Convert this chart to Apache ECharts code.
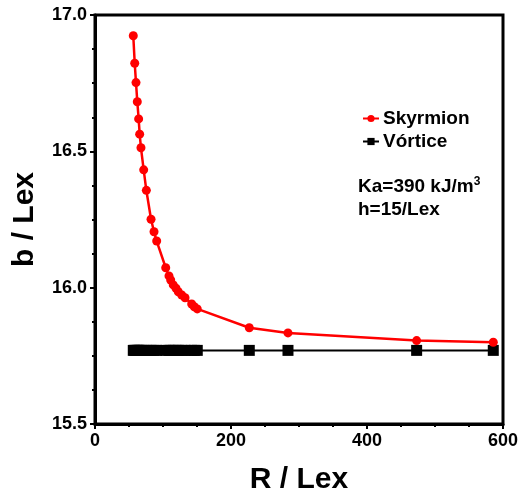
<!DOCTYPE html>
<html><head><meta charset="utf-8">
<script src="https://cdn.jsdelivr.net/npm/echarts@6/dist/echarts.min.js"></script>
<style>html,body{margin:0;padding:0;background:#fff}#c{width:520px;height:493px}</style>
</head><body><div id="c"></div>
<script>
const R = [56.3,58.4,60.3,62.2,64.2,65.7,67.6,71.6,75.5,82.4,86.8,90.7,104,108.8,111.3,115.1,119.1,122.5,127.5,132.4,142.2,146,150.4,226.9,283.8,473,585.7];
const skyrmion = [16.924,16.823,16.752,16.682,16.619,16.563,16.513,16.432,16.357,16.251,16.205,16.171,16.073,16.043,16.028,16.010,15.998,15.985,15.973,15.963,15.940,15.930,15.922,15.853,15.834,15.806,15.800];
const vortex = [15.77,15.77,15.77,15.77,15.77,15.77,15.77,15.77,15.77,15.77,15.77,15.77,15.77,15.77,15.77,15.77,15.77,15.77,15.77,15.77,15.77,15.77,15.77,15.77,15.77,15.77,15.77];
const xTicks = [0,200,400,600];
const yTicks = [15.5,16.0,16.5,17.0];
const seriesNames = ['Skyrmion','Vórtice'];

const FONT = 'Liberation Sans, Arial, sans-serif';
const chart = echarts.init(document.getElementById('c'));
const pair = (xs, ys) => xs.map((x,i)=>[x, ys[i]]);
chart.setOption({
  animation:false,
  grid:{left:95,right:17,top:15,bottom:69,outerBoundsMode:'none',containLabel:false,show:true,borderColor:'#000',borderWidth:3,backgroundColor:'transparent'},
  legend:{
    left:357,top:104,orient:'vertical',itemGap:4,itemWidth:16,itemHeight:9,
    textStyle:{fontFamily:FONT,fontWeight:'bold',fontSize:19,color:'#000',padding:[0,0,0,-1]},
    data:seriesNames
  },
  xAxis:{
    type:'value',min:xTicks[0],max:xTicks[xTicks.length-1],interval:200,
    name:'R / Lex',nameLocation:'middle',nameGap:41,
    nameTextStyle:{fontFamily:FONT,fontWeight:'bold',fontSize:30,color:'#000'},
    axisLine:{show:true,lineStyle:{color:'#000',width:3}},
    axisTick:{show:true,length:5,lineStyle:{color:'#000',width:2}},
    minorTick:{show:true,splitNumber:4,length:3,lineStyle:{color:'#000',width:2}},
    splitLine:{show:false},
    axisLabel:{fontFamily:FONT,fontWeight:'bold',fontSize:18,color:'#000',margin:8}
  },
  yAxis:{
    type:'value',min:yTicks[0],max:yTicks[yTicks.length-1],interval:0.5,
    name:'b / Lex',nameLocation:'middle',nameGap:55,
    nameTextStyle:{fontFamily:FONT,fontWeight:'bold',fontSize:30,color:'#000'},
    axisLine:{show:true,lineStyle:{color:'#000',width:3}},
    axisTick:{show:true,length:5,lineStyle:{color:'#000',width:2}},
    minorTick:{show:true,splitNumber:4,length:3,lineStyle:{color:'#000',width:2}},
    splitLine:{show:false},
    axisLabel:{fontFamily:FONT,fontWeight:'bold',fontSize:18,color:'#000',margin:8,formatter:v=>v.toFixed(1)}
  },
  graphic:[{
    type:'text',left:358,top:176,
    style:{
      text:'{a|Ka=390 kJ/m}{s|3}\n{a|h=15/Lex}',
      rich:{
        a:{fontFamily:FONT,fontWeight:'bold',fontSize:19,fill:'#000',lineHeight:23},
        s:{fontFamily:FONT,fontWeight:'bold',fontSize:12,fill:'#000',padding:[0,0,10,0],lineHeight:23}
      }
    }
  }],
  series:[
    {name:seriesNames[0],type:'line',data:pair(R,skyrmion),symbol:'circle',symbolSize:9,
     itemStyle:{color:'#ff0000'},lineStyle:{color:'#ff0000',width:2.5},z:3},
    {name:seriesNames[1],type:'line',data:pair(R,vortex),symbol:'rect',symbolSize:11,
     itemStyle:{color:'#000'},lineStyle:{color:'#000',width:2},z:2}
  ]
});
</script></body></html>
